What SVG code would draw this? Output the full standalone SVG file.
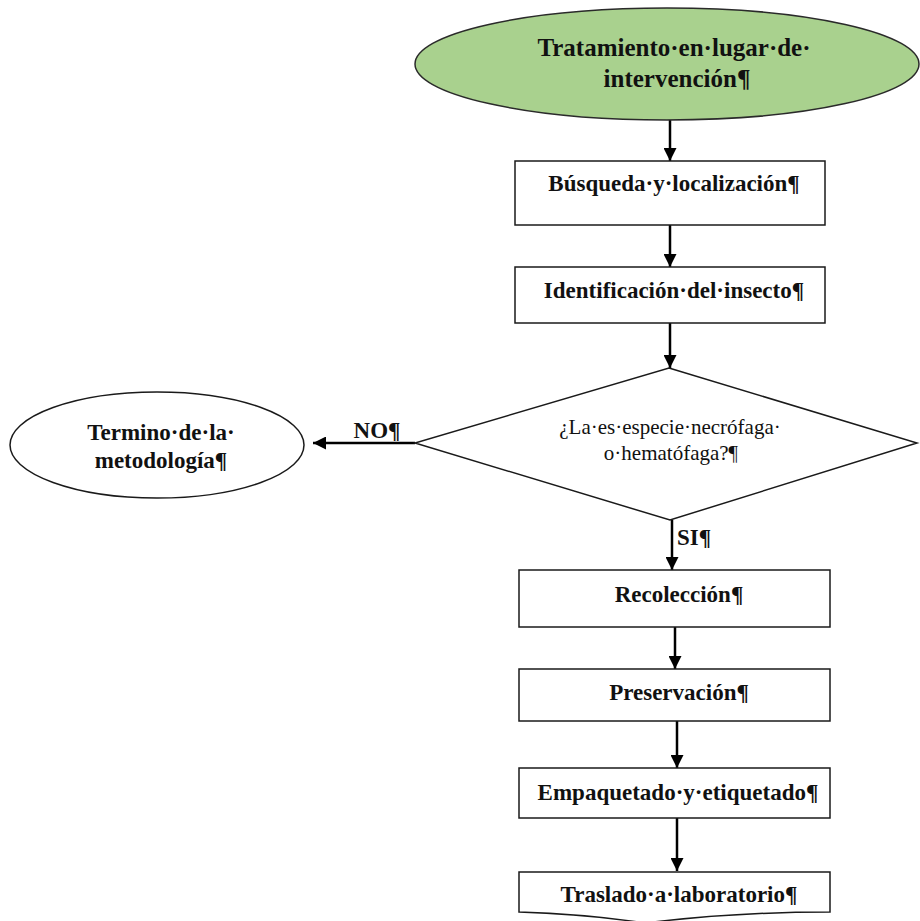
<svg xmlns="http://www.w3.org/2000/svg" width="920" height="921" viewBox="0 0 920 921">
  <style>
    .shape { fill: #ffffff; stroke: #1a1a1a; stroke-width: 1.5; }
    .start { fill: #a9d18e; stroke: #2a2a2a; stroke-width: 1.5; }
    .lbl { font-family: "Liberation Serif", "Times New Roman", serif; font-weight: bold; font-size: 23px; fill: #111; text-anchor: middle; }
    .big { font-size: 25px; }
    .q { font-family: "Liberation Serif", "Times New Roman", serif; font-size: 21px; fill: #111; text-anchor: middle; }
    .link { stroke: #000; stroke-width: 2.5; fill: none; marker-end: url(#head); }
  </style>
  <defs>
    <marker id="head" viewBox="0 0 10 10" refX="10" refY="5" markerUnits="userSpaceOnUse" markerWidth="13" markerHeight="13" orient="auto">
      <path d="M0,0 L10,5 L0,10 Z" fill="#000"/>
    </marker>
  </defs>

  <!-- connectors -->
  <g id="connectors">
    <line class="link" x1="670" y1="120" x2="670" y2="161"/>
    <line class="link" x1="670" y1="225" x2="670" y2="267"/>
    <line class="link" x1="670" y1="323" x2="670" y2="368"/>
    <line class="link" x1="672" y1="520" x2="672" y2="570"/>
    <line class="link" x1="675" y1="627" x2="675" y2="669"/>
    <line class="link" x1="677" y1="721" x2="677" y2="768"/>
    <line class="link" x1="677" y1="818" x2="677" y2="871"/>
    <line class="link" x1="415" y1="443" x2="313" y2="443"/>
    <text class="lbl" x="377" y="438" font-size="22">NO¶</text>
    <text class="lbl" x="694" y="545" font-size="22">SI¶</text>
  </g>

  <!-- start -->
  <g id="inicio">
    <ellipse class="start" cx="667" cy="64" rx="252" ry="56"/>
    <text class="lbl big" x="674" y="56">Tratamiento·en·lugar·de·</text>
    <text class="lbl big" x="677" y="87">intervención¶</text>
  </g>

  <g id="busqueda">
    <rect class="shape" x="515" y="161" width="310" height="64"/>
    <text class="lbl" x="674" y="191">Búsqueda·y·localización¶</text>
  </g>

  <g id="identificacion">
    <rect class="shape" x="515" y="267" width="310" height="56"/>
    <text class="lbl" x="674" y="298">Identificación·del·insecto¶</text>
  </g>

  <g id="decision">
    <polygon class="shape" points="669,368 917,443 670,520 415,443"/>
    <text class="q" x="670" y="434">¿La·es·especie·necrófaga·</text>
    <text class="q" x="671" y="460">o·hematófaga?¶</text>
  </g>

  <g id="termino">
    <ellipse class="shape" cx="157" cy="445" rx="147" ry="53"/>
    <text class="lbl" x="161" y="440">Termino·de·la·</text>
    <text class="lbl" x="161" y="468">metodología¶</text>
  </g>

  <g id="recoleccion">
    <rect class="shape" x="519" y="570" width="311" height="57"/>
    <text class="lbl" x="679" y="602">Recolección¶</text>
  </g>

  <g id="preservacion">
    <rect class="shape" x="519" y="669" width="311" height="52"/>
    <text class="lbl" x="679" y="700">Preservación¶</text>
  </g>

  <g id="empaquetado">
    <rect class="shape" x="519" y="768" width="311" height="50"/>
    <text class="lbl" x="678" y="800">Empaquetado·y·etiquetado¶</text>
  </g>

  <g id="traslado">
    <path class="shape" d="M519,872 H830 V912 Q735,912 645,923 Q585,914 519,912 Z"/>
    <text class="lbl" x="679" y="902">Traslado·a·laboratorio¶</text>
  </g>
</svg>
